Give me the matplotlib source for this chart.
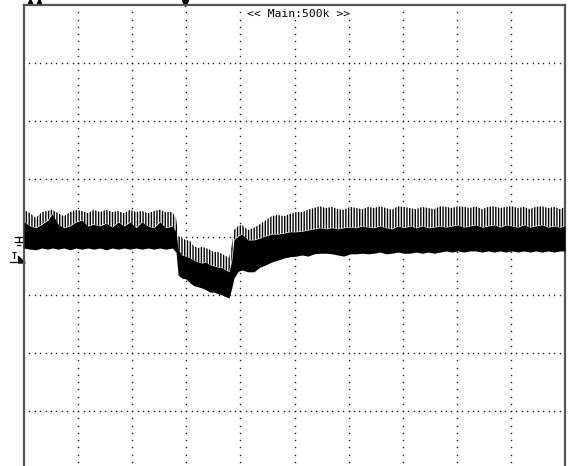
import matplotlib.pyplot as plt
import numpy as np

# ===== DATA (screen divisions: 10 x 8, centre = 0) =====
time_div = [0.00, 0.11, 0.22, 0.33, 0.44, 0.52, 0.63, 0.74, 0.85, 0.96,
            1.07, 1.18, 1.29, 1.40, 1.52, 1.63, 1.74, 1.85, 1.96, 2.07,
            2.18, 2.29, 2.40, 2.51, 2.62, 2.74, 2.81, 2.85, 2.92, 2.99,
            3.07, 3.14, 3.22, 3.29, 3.36, 3.44, 3.51, 3.59, 3.66, 3.73,
            3.79, 3.84, 3.88, 3.96, 4.03, 4.14, 4.25, 4.36, 4.47, 4.58,
            4.69, 4.81, 4.92, 5.03, 5.14, 5.25, 5.36, 5.47, 5.58, 5.69,
            5.80, 5.91, 6.03, 6.14, 6.25, 6.36, 6.47, 6.58, 6.69, 6.80,
            6.91, 7.02, 7.13, 7.25, 7.36, 7.47, 7.58, 7.69, 7.80, 7.91,
            8.02, 8.13, 8.24, 8.35, 8.47, 8.58, 8.69, 8.80, 8.91, 9.02,
            9.13, 9.24, 9.35, 9.46, 9.57, 9.69, 9.80, 9.91, 10.00]

# top of the ripple spikes
spike_top = [0.47, 0.41, 0.33, 0.43, 0.45, 0.47, 0.41, 0.36, 0.43, 0.47,
             0.45, 0.41, 0.47, 0.43, 0.47, 0.43, 0.45, 0.41, 0.47, 0.43,
             0.45, 0.41, 0.45, 0.47, 0.43, 0.43, 0.33, 0.02, -0.02, -0.05,
             -0.07, -0.16, -0.19, -0.17, -0.19, -0.22, -0.26, -0.26, -0.29, -0.33,
             -0.36, -0.14, 0.12, 0.19, 0.21, 0.12, 0.16, 0.22, 0.29, 0.36,
             0.38, 0.36, 0.40, 0.43, 0.43, 0.47, 0.50, 0.53, 0.50, 0.52,
             0.48, 0.47, 0.52, 0.50, 0.48, 0.52, 0.50, 0.53, 0.50, 0.47,
             0.53, 0.52, 0.50, 0.48, 0.52, 0.50, 0.48, 0.53, 0.52, 0.50,
             0.53, 0.52, 0.50, 0.53, 0.48, 0.52, 0.53, 0.50, 0.52, 0.53,
             0.50, 0.52, 0.48, 0.52, 0.53, 0.50, 0.52, 0.48, 0.52]

# top of the solid part of the trace
core_top = [0.26, 0.19, 0.16, 0.22, 0.29, 0.40, 0.22, 0.16, 0.19, 0.26,
            0.29, 0.19, 0.22, 0.19, 0.24, 0.17, 0.26, 0.19, 0.26, 0.16,
            0.26, 0.19, 0.16, 0.26, 0.16, 0.19, 0.09, -0.22, -0.31, -0.33,
            -0.36, -0.40, -0.43, -0.45, -0.43, -0.48, -0.50, -0.52, -0.53, -0.57,
            -0.60, -0.40, -0.05, 0.02, 0.05, -0.05, -0.05, -0.02, 0.02, 0.05,
            0.05, 0.07, 0.09, 0.09, 0.10, 0.12, 0.14, 0.16, 0.14, 0.16,
            0.14, 0.16, 0.17, 0.16, 0.19, 0.17, 0.16, 0.19, 0.16, 0.14,
            0.19, 0.16, 0.19, 0.16, 0.19, 0.16, 0.17, 0.19, 0.17, 0.19,
            0.21, 0.17, 0.19, 0.21, 0.17, 0.19, 0.21, 0.17, 0.21, 0.19,
            0.17, 0.21, 0.17, 0.19, 0.21, 0.17, 0.19, 0.17, 0.19]

# lower edge of the trace
trace_bottom = [-0.19, -0.21, -0.22, -0.19, -0.21, -0.19, -0.21, -0.19, -0.22, -0.19,
                -0.21, -0.19, -0.21, -0.19, -0.22, -0.19, -0.21, -0.19, -0.21, -0.19,
                -0.21, -0.19, -0.21, -0.19, -0.21, -0.19, -0.26, -0.66, -0.71, -0.72,
                -0.79, -0.84, -0.86, -0.88, -0.91, -0.95, -0.95, -0.98, -1.00, -1.03,
                -1.05, -0.88, -0.71, -0.59, -0.57, -0.60, -0.60, -0.52, -0.48, -0.43,
                -0.40, -0.36, -0.34, -0.33, -0.31, -0.33, -0.29, -0.28, -0.28, -0.29,
                -0.31, -0.33, -0.29, -0.29, -0.28, -0.29, -0.28, -0.26, -0.29, -0.28,
                -0.26, -0.28, -0.28, -0.26, -0.28, -0.26, -0.28, -0.26, -0.24, -0.26,
                -0.24, -0.26, -0.24, -0.24, -0.26, -0.24, -0.26, -0.24, -0.26, -0.24,
                -0.26, -0.24, -0.26, -0.24, -0.26, -0.24, -0.26, -0.24, -0.24]

header_text = "<< Main:500k >>"

# ===== FIGURE =====
plt.rcParams['hatch.linewidth'] = 1.0
fig = plt.figure(figsize=(5.69, 4.66), dpi=100)
ax = fig.add_axes([24 / 569, -3 / 466, 541 / 569, 464 / 466])
ax.set_xlim(0, 10)
ax.set_ylim(-4, 4)
ax.set_xticks([])
ax.set_yticks([])
for s in ax.spines.values():
    s.set_color('#555555')
    s.set_linewidth(1.6)

# ===== DOTTED GRATICULE =====
hx = np.arange(1, 100) / 10
for gy in range(-3, 4):
    ax.plot(hx, np.full(hx.size, gy), ls='none', marker='s', ms=1.0,
            mew=0, color='#222222', zorder=1)
vy = np.arange(-31, 32) / 8
for gx in range(1, 10):
    ax.plot(np.full(vy.size, gx), vy, ls='none', marker='s', ms=1.0,
            mew=0, color='#222222', zorder=1)

# ===== TRACE =====
ax.fill_between(time_div, trace_bottom, core_top, color='black', lw=0, zorder=3)
ax.fill_between(time_div, core_top, spike_top, facecolor='white',
                edgecolor='black', hatch='||||||', lw=0, zorder=2)

# ===== HEADER TEXT + MARKERS =====
ax.text(4.12, 3.84, header_text, family='DejaVu Sans Mono', fontsize=8.2,
        ha='left', va='center', zorder=4,
        bbox=dict(facecolor='white', edgecolor='none', pad=0.5))
ax.plot([2.98], [4.03], marker='v', ms=4, color='black', clip_on=False)
ax.plot([0.11, 0.28], [4.07, 4.07], ls='none', marker='^', ms=3,
        color='black', clip_on=False)

# ground symbol (channel 1 reference)
kw = dict(color='black', lw=0.9, clip_on=False)
ax.plot([-0.17, -0.04], [0.0, 0.0], **kw)
ax.plot([-0.10, -0.10], [0.0, -0.09], **kw)
ax.plot([-0.17, -0.04], [-0.09, -0.09], **kw)
ax.plot([-0.13, -0.07], [-0.13, -0.13], **kw)

# trigger level marker
ax.text(-0.19, -0.33, "T", family='DejaVu Sans Mono', fontsize=6,
        fontweight='bold', ha='center', va='center', clip_on=False)
ax.plot([-0.26, -0.01], [-0.43, -0.43], **kw)
ax.plot([-0.06], [-0.38], marker=[(-1, 1), (1, -1), (-1, -1)], ms=5,
        color='black', clip_on=False)

plt.savefig("out.png", dpi=100)
